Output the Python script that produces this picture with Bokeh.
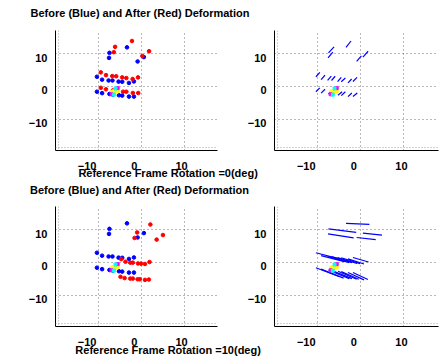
from bokeh.plotting import figure
from bokeh.layouts import column, row
from bokeh.models import Range1d, LinearAxis, FixedTicker, Label, Span, Grid
from bokeh.embed import file_html
from bokeh.resources import INLINE

# ---------------- data ----------------
before_x = [-7.4, -7.5, -3.35, -0.9, 0.55,
            -10.3, -9.1, -7.6, -6.7, -5.3, -4.45, -2.9, -1.75,
            -10.3, -9.1, -7.4, -6.6, -5.2, -4.45, -2.9, -1.75]
before_y = [10.35, 8.8, 12.05, 7.7, 9.05,
            3.0, 2.1, 1.85, 1.85, 1.5, 1.45, 1.1, 1.55,
            -1.6, -2.05, -2.3, -2.5, -2.7, -2.8, -3.1, -3.1]

after0_x = [-6.1, -6.4, -2.2, 0.2, 1.75,
            -9.4, -8.2, -6.75, -5.85, -4.45, -3.5, -2.05, -0.8,
            -9.4, -8.2, -6.6, -5.7, -4.25, -3.5, -2.0, -0.75]
after0_y = [12.2, 10.55, 14.0, 9.4, 10.85,
            4.35, 3.5, 3.2, 3.15, 2.8, 2.6, 2.3, 2.8,
            -0.4, -0.85, -1.2, -1.3, -1.6, -1.6, -2.0, -2.0]

after10_x = [-1.0, -1.6, 2.05, 3.5, 4.95,
             -4.7, -3.7, -2.6, -2.0, -0.8, -0.1, 0.8, 1.85,
             -4.85, -3.9, -2.6, -2.0, -0.9, -0.4, 0.8, 1.7]
after10_y = [9.25, 7.55, 11.7, 7.05, 8.45,
             1.05, 0.25, -0.05, -0.05, -0.3, -0.35, -0.45, 0.15,
             -4.4, -4.8, -4.95, -4.95, -5.15, -5.15, -5.35, -5.25]

centre_x = [-6.1]
centre_y = [-1.5]
centre_w = [2.2]
centre_h = [1.2]
magenta_x = [-5.5, -6.9]
magenta_y = [-0.5, -2.4]
cyan_x = [-6.0, -6.4]
cyan_y = [-0.6, -2.5]

x_ticks = [-10, 0, 10]
y_ticks = [-10, 0, 10]
title_text = "Before (Blue) and After (Red) Deformation"
xlabel_texts = ["Reference Frame Rotation =0(deg)",
                "Reference Frame Rotation =10(deg)"]

# ---------------- styling / layout ----------------
FONT = "Liberation Sans"
FS = "11px"
X0, X1_LEFT, X1_RIGHT = -19.86, 17.55, 18.0
Y0, Y1 = -19.69, 17.23
LX0, LX1_LEFT, LX1_RIGHT = -16.68, 17.60, 17.8
LY_SHIFT = 1.2
LABEL_DY = 5  # Bokeh draws labels a little lower than the baseline asked


def panel(width, height, bl, br, bt, bb, x_end, lx_end, kind, ax, ay):
    p = figure(width=width, height=height, title=None,
               x_range=Range1d(X0, x_end), y_range=Range1d(Y0, Y1),
               x_axis_type=None, y_axis_type=None,
               output_backend="svg", toolbar_location=None,
               min_border_left=bl, min_border_right=br,
               min_border_top=bt, min_border_bottom=bb)
    p.outline_line_color = None
    p.background_fill_color = "white"
    p.border_fill_color = None
    p.extra_x_ranges = {"lab": Range1d(LX0, lx_end)}
    p.extra_y_ranges = {"lab": Range1d(Y0 + LY_SHIFT, Y1 + LY_SHIFT)}

    for dim, ticks in ((0, x_ticks), (1, y_ticks)):
        g = Grid(dimension=dim, ticker=FixedTicker(ticks=ticks),
                 grid_line_color="#707070", grid_line_dash="1 3",
                 grid_line_width=1)
        p.add_layout(g, "center")

    p.add_layout(Span(location=X0 + 0.7, dimension="height",
                      line_color="#a0a0a0", line_dash="1 2", line_width=1))
    p.add_layout(Span(location=Y0 + 0.9, dimension="width",
                      line_color="#a0a0a0", line_dash="1 2", line_width=1))

    xa = LinearAxis(x_range_name="lab", ticker=FixedTicker(ticks=x_ticks))
    ya = LinearAxis(y_range_name="lab", ticker=FixedTicker(ticks=y_ticks))
    for a, st in ((xa, 11), (ya, 8)):
        a.major_tick_line_color = None
        a.minor_tick_line_color = None
        a.major_tick_in = 0
        a.major_tick_out = 0
        a.minor_tick_in = 0
        a.minor_tick_out = 0
        a.axis_line_color = "black"
        a.axis_line_width = 1
        a.major_label_standoff = st
        a.major_label_text_font = FONT
        a.major_label_text_font_style = "bold"
        a.major_label_text_font_size = FS
        a.major_label_text_color = "black"
    p.add_layout(xa, "below")
    p.add_layout(ya, "left")

    if kind == "points":
        p.scatter(before_x, before_y, size=3.6, marker="circle",
                  fill_color="#0000FF", line_color="#0000FF")
        p.scatter(ax, ay, size=3.6, marker="circle",
                  fill_color="#FF0000", line_color="#FF0000")
    else:
        p.segment(x0=before_x, y0=before_y, x1=ax, y1=ay,
                  line_color="#0000FF", line_width=1.2)
    p.ellipse(x=centre_x, y=centre_y, width=centre_w, height=centre_h,
              fill_color="#FFFF00", line_color="#FFFF00")
    p.scatter(magenta_x, magenta_y, size=3, marker="square",
              fill_color="#FF00FF", line_color="#FF00FF")
    p.scatter(cyan_x, cyan_y, size=3, marker="square",
              fill_color="#00FFFF", line_color="#00FFFF")
    return p


def band(height, labels):
    b = figure(width=440, height=height, title=None,
               x_range=Range1d(0, 440), y_range=Range1d(0, height),
               x_axis_type=None, y_axis_type=None,
               output_backend="svg", toolbar_location=None,
               min_border_left=0, min_border_right=0,
               min_border_top=0, min_border_bottom=0)
    b.outline_line_color = None
    b.background_fill_color = None
    b.border_fill_color = None
    for txt, x, base_from_top, align in labels:
        b.add_layout(Label(x=x, y=height - base_from_top + LABEL_DY, text=txt,
                           text_font=FONT, text_font_style="bold",
                           text_font_size=FS, text_color="black",
                           text_align=align, text_baseline="alphabetic"))
    return b


# band 0..26 : title baseline at 17.3
band_t1 = band(26, [(title_text, 30, 17.3, "left")])

# rows 26..176 : frame 30..150
tl = panel(238, 150, 55, 21, 4, 26, X1_LEFT, LX1_LEFT, "points", after0_x, after0_y)
tr = panel(202, 150, 36, 2, 4, 26, X1_RIGHT, LX1_RIGHT, "lines", after0_x, after0_y)

# middle band 166..204 : xlabel baseline 177, title baseline 194.7
band_m = band(38, [(xlabel_texts[0], 167.6, 11, "center"),
                   (title_text, 29.5, 28.7, "left")])
band_m.margin = (-10, 0, 0, 0)

# rows 204..352 : frame 206..326
bl = panel(238, 148, 55, 21, 2, 26, X1_LEFT, LX1_LEFT, "points", after10_x, after10_y)
br = panel(202, 148, 36, 2, 2, 26, X1_RIGHT, LX1_RIGHT, "lines", after10_x, after10_y)

# bottom band 342..357 : xlabel baseline 354.7
band_x2 = band(15, [(xlabel_texts[1], 167.6, 12.7, "center")])
band_x2.margin = (-10, 0, 0, 0)

layout = column(band_t1, row(tl, tr), band_m, row(bl, br), band_x2)

open("out.html", "w").write(file_html(layout, INLINE))
